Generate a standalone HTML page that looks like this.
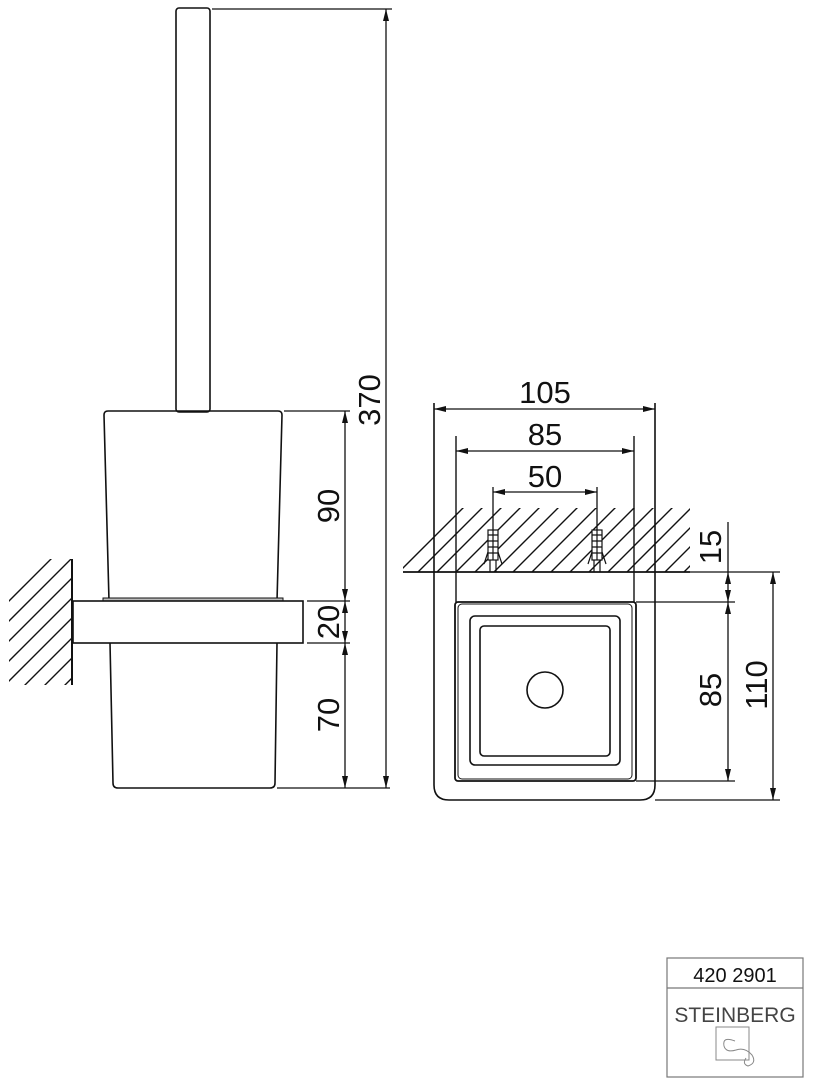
<!DOCTYPE html>
<html><head><meta charset="utf-8"><style>
html,body{margin:0;padding:0;background:#fff;}
svg{display:block;}
text{font-family:"Liberation Sans",sans-serif;fill:#111;}
</style></head><body>
<svg width="821" height="1080" viewBox="0 0 821 1080" xmlns="http://www.w3.org/2000/svg">
<defs>
<marker id="a" viewBox="0 0 12 6" refX="12" refY="3" markerWidth="12" markerHeight="6" orient="auto-start-reverse" markerUnits="userSpaceOnUse"><path d="M0,0 L12,3 L0,6 Z" fill="#111"/></marker>
<clipPath id="c1"><rect x="9" y="559" width="63" height="126"/></clipPath>
<clipPath id="c2"><rect x="403" y="508" width="287" height="64"/></clipPath>
</defs>
<g stroke="#111" fill="none" stroke-width="1.6">
<rect x="176" y="8" width="34" height="404" rx="3"/>
<path d="M108,411 L278,411 Q282,411 282,415 L277,601 M108,411 Q104,411 104,415 L109,601"/>
<path d="M110,643 L113,783 Q113,788 118,788 L270,788 Q275,788 275,783 L277,643"/>
<rect x="103" y="598" width="180" height="3" fill="#bbb" stroke-width="1"/>
<rect x="73" y="601" width="230" height="42" fill="#fff"/>
<line x1="72" y1="559" x2="72" y2="685" stroke-width="2"/>
<g clip-path="url(#c1)" stroke-width="1.4">
<path d="M0,610 L80,530 M0,630 L80,550 M0,650 L80,570 M0,670 L80,590 M0,690 L80,610 M0,710 L80,630 M0,730 L80,650 M0,750 L80,670 M0,770 L80,690 M0,790 L80,710"/>
</g>
<g stroke-width="1.3">
<line x1="212" y1="9" x2="392" y2="9"/>
<line x1="386" y1="9" x2="386" y2="788" marker-start="url(#a)" marker-end="url(#a)"/>
<line x1="284" y1="411" x2="350" y2="411"/>
<line x1="307" y1="601" x2="350" y2="601"/>
<line x1="307" y1="643" x2="350" y2="643"/>
<line x1="277" y1="788" x2="390" y2="788"/>
<line x1="345" y1="411" x2="345" y2="601" marker-start="url(#a)" marker-end="url(#a)"/>
<line x1="345" y1="601" x2="345" y2="643" marker-start="url(#a)" marker-end="url(#a)"/>
<line x1="345" y1="643" x2="345" y2="788" marker-start="url(#a)" marker-end="url(#a)"/>
</g>
<g clip-path="url(#c2)" stroke-width="1.4">
<path d="M381,590 L481,490 M400,590 L500,490 M419,590 L519,490 M438,590 L538,490 M457,590 L557,490 M476,590 L576,490 M495,590 L595,490 M514,590 L614,490 M533,590 L633,490 M552,590 L652,490 M571,590 L671,490 M590,590 L690,490 M609,590 L709,490 M628,590 L728,490 M647,590 L747,490 M666,590 L766,490 M685,590 L785,490"/>
</g>
<line x1="403" y1="572" x2="690" y2="572" stroke-width="1.8"/>
<g stroke-width="1.2" fill="#fff">
<rect x="488" y="530" width="10" height="30"/><path d="M488,535h10M488,541h10M488,547h10M488,553h10M493,530v30"/>
<path d="M484,564 L488,552 M502,564 L498,552 M490,560 v12 M496,560 v12"/>
<rect x="592" y="530" width="10" height="30"/><path d="M592,535h10M592,541h10M592,547h10M592,553h10M597,530v30"/>
<path d="M588,564 L592,552 M606,564 L602,552 M594,560 v12 M600,560 v12"/>
</g>
<path d="M434,403 L434,785 Q434,800 449,800 L640,800 Q655,800 655,785 L655,403" stroke-width="1.6"/>
<path d="M456,436 L456,602 M634,436 L634,602" stroke-width="1.4"/>
<rect x="455" y="602" width="181" height="179" rx="3" stroke-width="1.8"/>
<rect x="458" y="604" width="174" height="175" rx="4" stroke-width="1"/>
<rect x="470" y="616" width="150" height="149" rx="5"/>
<rect x="480" y="626" width="130" height="130" rx="4"/>
<circle cx="545" cy="690" r="18"/>
<g stroke-width="1.3">
<line x1="434" y1="409" x2="655" y2="409" marker-start="url(#a)" marker-end="url(#a)"/>
<line x1="456" y1="451" x2="634" y2="451" marker-start="url(#a)" marker-end="url(#a)"/>
<line x1="493" y1="487" x2="493" y2="530"/><line x1="597" y1="487" x2="597" y2="530"/>
<line x1="493" y1="492" x2="597" y2="492" marker-start="url(#a)" marker-end="url(#a)"/>
<line x1="690" y1="572" x2="780" y2="572"/>
<line x1="636" y1="602" x2="735" y2="602"/>
<line x1="636" y1="781" x2="735" y2="781"/>
<line x1="655" y1="800" x2="780" y2="800"/>
<line x1="728" y1="522" x2="728" y2="572"/>
<line x1="728" y1="572" x2="728" y2="602" marker-start="url(#a)" marker-end="url(#a)"/>
<line x1="728" y1="602" x2="728" y2="781" marker-start="url(#a)" marker-end="url(#a)"/>
<line x1="773" y1="572" x2="773" y2="800" marker-start="url(#a)" marker-end="url(#a)"/>
</g>
<rect x="667" y="958" width="136" height="119" stroke="#777" stroke-width="1.2"/>
<line x1="667" y1="988" x2="803" y2="988" stroke="#777" stroke-width="1.2"/>
<rect x="716" y="1027" width="33" height="33" stroke="#888" stroke-width="1"/>
<path d="M735,1041 Q722,1036 724,1046 Q726,1053 736,1050 Q745,1047 752,1055 Q757,1063 748,1066 Q742,1064 746,1058" stroke="#888" stroke-width="1"/>
</g>
<g font-size="31">
<text transform="translate(380,400) rotate(-90)" text-anchor="middle">370</text>
<text transform="translate(339,506) rotate(-90)" text-anchor="middle">90</text>
<text transform="translate(339,622) rotate(-90)" text-anchor="middle">20</text>
<text transform="translate(339,715) rotate(-90)" text-anchor="middle">70</text>
<text x="545" y="403" text-anchor="middle">105</text>
<text x="545" y="445" text-anchor="middle">85</text>
<text x="545" y="487" text-anchor="middle">50</text>
<text transform="translate(721,547) rotate(-90)" text-anchor="middle">15</text>
<text transform="translate(721,690) rotate(-90)" text-anchor="middle">85</text>
<text transform="translate(767,685) rotate(-90)" text-anchor="middle">110</text>
</g>
<text x="735" y="982" font-size="20" text-anchor="middle">420 2901</text>
<text x="735" y="1022" font-size="21" text-anchor="middle" style="fill:#444">STEINBERG</text>
</svg>
</body></html>
